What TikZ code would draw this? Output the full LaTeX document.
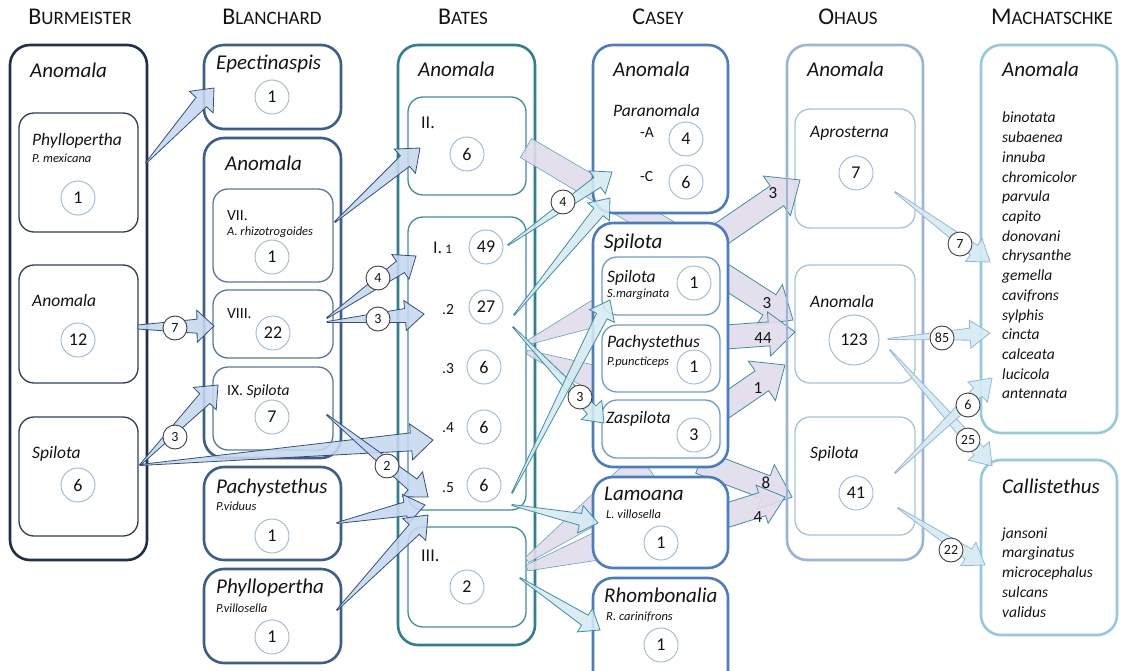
\documentclass[tikz,border=0pt]{standalone}
\usepackage{fontspec}
\setmainfont{Carlito}
\usetikzlibrary{calc,fit}
\definecolor{burc}{HTML}{1F3048}
\definecolor{burin}{HTML}{2F3F55}
\definecolor{blc}{HTML}{3D5D8A}
\definecolor{blin}{HTML}{5878A3}
\definecolor{batc}{HTML}{2F7F91}
\definecolor{batin}{HTML}{3F8EA0}
\definecolor{casc}{HTML}{4A7CC4}
\definecolor{casin}{HTML}{6E9BD6}
\definecolor{ohc}{HTML}{9AB5D8}
\definecolor{ohin}{HTML}{A9C2E0}
\definecolor{mac}{HTML}{93CBD9}
\definecolor{numc}{HTML}{9BB7DB}
\definecolor{lblc}{HTML}{404040}
\definecolor{blfill}{HTML}{C6D8F0}
\definecolor{blstroke}{HTML}{34507A}
\definecolor{cyfill}{HTML}{D4EBF2}
\definecolor{pufill}{HTML}{E2DCEB}
\definecolor{txt}{HTML}{141414}
\newcommand\myfs[1]{\fontsize{#1}{#1}\selectfont}
\newcommand\hd[2]{{\myfs{24}#1}{\myfs{19}#2}}
% tapered arrow: style, tail, tip, tail hw, shaft hw, head hw, head length
\newcommand\tarrow[7]{%
  \coordinate (tb) at ($(#3)!#7!(#2)$);
  \draw[#1] ($(#2)!#4!90:(#3)$) -- ($(tb)!#5!90:(#3)$) -- ($(tb)!#6!90:(#3)$) -- (#3)
    -- ($(tb)!#6!-90:(#3)$) -- ($(tb)!#5!-90:(#3)$) -- ($(#2)!#4!-90:(#3)$) -- cycle;}
\begin{document}
\begin{tikzpicture}[x=1pt,y=-1pt,
  outer/.style={rounded corners=20pt, line width=2.6pt, inner sep=0pt, fill=white},
  innerbox/.style={rounded corners=15pt, line width=1.3pt, inner sep=0pt, fill=white},
  hdr/.style={anchor=base, inner sep=0pt, text=txt},
  ttl/.style={anchor=base west, inner sep=0pt, text=txt, font=\myfs{21}\itshape},
  sub/.style={anchor=base west, inner sep=0pt, text=txt, font=\myfs{17.5}\itshape},
  sml/.style={anchor=base west, inner sep=0pt, text=txt, font=\myfs{12.5}\itshape},
  rom/.style={anchor=base west, inner sep=0pt, text=txt, font=\myfs{15.5}},
  romb/.style={anchor=base west, inner sep=0pt, text=txt, font=\myfs{18}},
  lst/.style={anchor=base west, inner sep=0pt, text=txt, font=\myfs{15.5}\itshape},
  num/.style={circle, draw=numc, line width=0.9pt, fill=white, minimum size=34pt, inner sep=0pt, text=txt, font=\myfs{18}},
  bignum/.style={num, minimum size=50pt},
  lbl/.style={circle, draw=lblc, line width=0.9pt, fill=white, minimum size=24pt, inner sep=0pt, text=txt, font=\myfs{14}},
  plbl/.style={inner sep=0pt, text=txt, font=\myfs{17}},
  blarr/.style={fill=blfill, draw=blstroke, line width=0.8pt, fill opacity=0.88},
  cyarr/.style={fill=cyfill, draw=batin, line width=0.8pt, fill opacity=0.88},
  oharr/.style={fill=cyfill, draw=ohc, line width=0.8pt, fill opacity=0.9},
  puarr/.style={fill=pufill, draw=batin, line width=0.8pt, fill opacity=0.9},
  pushaft/.style={fill=pufill, draw=batin!80, line width=0.6pt, fill opacity=0.9}
]
\useasboundingbox (0,0) rectangle (1131,671);
\clip (0,0) rectangle (1131,671);
\fill[white] (0,0) rectangle (1131,671);

% headers
\node[hdr] (h1) at (80,25) {\hd{B}{URMEISTER}};
\node[hdr] (h2) at (272,25) {\hd{B}{LANCHARD}};
\node[hdr] (h3) at (463,25) {\hd{B}{ATES}};
\node[hdr] (h4) at (658,25) {\hd{C}{ASEY}};
\node[hdr] (h5) at (848,25) {\hd{O}{HAUS}};
\node[hdr] (h6) at (1052,25) {\hd{M}{ACHATSCHKE}};

% Burmeister
\node[outer,draw=burc,fit={(10,45)(147,560)}] (burO) {};
\node[innerbox,draw=burin,fit={(19,113)(138,232)}] (burP) {};
\node[innerbox,draw=burin,fit={(19,265)(138,383)}] (burA) {};
\node[innerbox,draw=burin,fit={(19,417)(138,536)}] (burS) {};
\node[ttl] (burT) at (30,78) {Anomala};
\node[sub] (burPt) at (32,146) {Phyllopertha};
\node[sml] (burPs) at (32,163) {P. mexicana};
\node[num] (burPn) at (78,198) {1};
\node[sub] (burAt) at (32,306) {Anomala};
\node[num] (burAn) at (78,340) {12};
\node[sub] (burSt) at (32,458) {Spilota};
\node[num] (burSn) at (78,485) {6};

% Blanchard
\node[outer,draw=blc,fit={(204,45)(341,129)}] (blE) {};
\node[outer,draw=blc,fit={(204,138)(341,458)}] (blA) {};
\node[innerbox,draw=blin,fit={(213,189)(333,282)}] (bl7) {};
\node[innerbox,draw=blin,fit={(213,290)(333,358)}] (bl8) {};
\node[innerbox,draw=blin,fit={(213,367)(333,450)}] (bl9) {};
\node[outer,draw=blc,fit={(204,467)(341,560)}] (blP) {};
\node[outer,draw=blc,fit={(204,569)(341,663)}] (blV) {};
\node[ttl] (blEt) at (216,70) {Epectinaspis};
\node[num] (blEn) at (272,97) {1};
\node[ttl] (blAt) at (225,171) {Anomala};
\node[rom] (bl7t) at (227,220) {VII.};
\node[sml] (bl7s) at (227,235) {A. rhizotrogoides};
\node[num] (bl7n) at (272,257) {1};
\node[rom] (bl8t) at (227,318) {VIII.};
\node[num] (bl8n) at (273,333) {22};
\node[rom] (bl9t) at (227,395) {IX. \textit{Spilota}};
\node[num] (bl9n) at (272,417) {7};
\node[ttl] (blPt) at (216,493) {Pachystethus};
\node[sml] (blPs) at (216,510) {P.viduus};
\node[num] (blPn) at (272,536) {1};
\node[ttl] (blVt) at (216,593) {Phyllopertha};
\node[sml] (blVs) at (216,612) {P.villosella};
\node[num] (blVn) at (272,637) {1};

% Bates
\node[outer,draw=batc,fit={(398,45)(535,645)}] (baO) {};
\node[innerbox,draw=batin,fit={(408,97)(526,195)}] (ba2) {};
\node[innerbox,draw=batin,fit={(408,217)(526,510)}] (ba1) {};
\node[innerbox,draw=batin,fit={(408,527)(526,627)}] (ba3) {};
\node[ttl] (baT) at (418,77) {Anomala};
\node[romb] (ba2t) at (421,129) {II.};
\node[num] (ba2n) at (467,154) {6};
\node[romb] (ba1t) at (433,253) {I.\,{\myfs{13}1}};
\node[num] (ba1n) at (486,247) {49};
\node[rom] (ba12t) at (442,314) {.2};
\node[num] (ba12n) at (486,307) {27};
\node[rom] (ba13t) at (442,373) {.3};
\node[num] (ba13n) at (484,367) {6};
\node[rom] (ba14t) at (442,432) {.4};
\node[num] (ba14n) at (484,427) {6};
\node[rom] (ba15t) at (442,492) {.5};
\node[num] (ba15n) at (484,485) {6};
\node[romb] (ba3t) at (421,561) {III.};
\node[num] (ba3n) at (467,587) {2};

% Ohaus
\node[outer,draw=ohc,fill=none,fit={(787,45)(923,560)}] (ohO) {};
\node[innerbox,draw=ohin,fit={(795,109)(915,228)}] (ohA) {};
\node[innerbox,draw=ohin,fit={(795,265)(915,383)}] (ohN) {};
\node[innerbox,draw=ohin,fit={(795,417)(915,535)}] (ohS) {};
\node[ttl] (ohT) at (807,77) {Anomala};
\node[sub] (ohAt) at (810,138) {Aprosterna};
\node[num] (ohAn) at (856,173) {7};
\node[sub] (ohNt) at (810,307) {Anomala};
\node[bignum] (ohNn) at (854,340) {123};
\node[sub] (ohSt) at (810,458) {Spilota};
\node[num] (ohSn) at (856,493) {41};

% Machatschke
\node[outer,draw=mac,fit={(981,45)(1117,433)}] (maA) {};
\node[outer,draw=mac,fit={(981,460)(1117,635)}] (maC) {};
\node[ttl] (maAt) at (1002,77) {Anomala};
\foreach \w [count=\i] in {binotata,subaenea,innuba,chromicolor,parvula,capito,donovani,chrysanthe,gemella,cavifrons,sylphis,cincta,calceata,lucicola,antennata}
  \node[lst] (ma\i) at (1002,{123+19.7*(\i-1)}) {\w};
\node[ttl] (maCt) at (1002,493) {Callistethus};
\foreach \w [count=\i] in {jansoni,marginatus,microcephalus,sulcans,validus}
  \node[lst] (mc\i) at (1002,{538+19.75*(\i-1)}) {\w};

% purple arrows behind Casey
\coordinate (q1s) at (526,148); \coordinate (q1e) at (690,245);
\coordinate (q2s) at (527,343); \coordinate (q2e) at (650,290);
\coordinate (q3s) at (527,352); \coordinate (q3e) at (650,400);
\coordinate (q4s) at (527,560); \coordinate (q4e) at (650,470);
\coordinate (q5s) at (527,568); \coordinate (q5e) at (650,530);
\tarrow{pushaft}{q1s}{q1e}{11pt}{12pt}{12pt}{1pt}
\tarrow{pushaft}{q2s}{q2e}{2pt}{22pt}{22pt}{1pt}
\tarrow{pushaft}{q3s}{q3e}{2pt}{22pt}{22pt}{1pt}
\tarrow{pushaft}{q4s}{q4e}{3pt}{22pt}{22pt}{1pt}
\tarrow{pushaft}{q5s}{q5e}{3pt}{22pt}{22pt}{1pt}
\coordinate (p2s) at (705,245); \coordinate (p2e) at (800,180);
\coordinate (p3s) at (712,268); \coordinate (p3e) at (793,320);
\coordinate (p4s) at (712,338); \coordinate (p4e) at (795,332);
\coordinate (p5s) at (712,415); \coordinate (p5e) at (785,365);
\coordinate (p6s) at (700,462); \coordinate (p6e) at (792,497);
\coordinate (p7s) at (712,520); \coordinate (p7e) at (785,497);
\tarrow{puarr}{p2s}{p2e}{12pt}{12pt}{24pt}{28pt}
\tarrow{puarr}{p3s}{p3e}{12pt}{12pt}{24pt}{28pt}
\tarrow{puarr}{p4s}{p4e}{12pt}{12pt}{22pt}{26pt}
\tarrow{puarr}{p5s}{p5e}{12pt}{12pt}{24pt}{28pt}
\tarrow{puarr}{p6s}{p6e}{12pt}{12pt}{24pt}{28pt}
\tarrow{puarr}{p7s}{p7e}{12pt}{12pt}{20pt}{24pt}
\draw[ohc,line width=2.6pt] (787,150) -- (787,530);

% Casey
\node[outer,draw=casc,fit={(593,45)(728,213)}] (caA) {};
\node[outer,draw=casc,fit={(593,223)(728,467)}] (caS) {};
\node[innerbox,draw=casin,fit={(602,257)(720,315)}] (caS1) {};
\node[innerbox,draw=casin,fit={(602,325)(720,392)}] (caS2) {};
\node[innerbox,draw=casin,fit={(602,400)(720,458)}] (caS3) {};
\node[outer,draw=casc,fit={(593,477)(728,568)}] (caL) {};
\node[outer,draw=casc,fit={(593,578)(728,700)}] (caR) {};
\node[ttl] (caAt) at (613,77) {Anomala};
\node[sub] (caPt) at (613,117) {Paranomala};
\node[rom] (caPa) at (640,138) {-A};
\node[num] (caPan) at (686,139) {4};
\node[rom] (caPc) at (640,182) {-C};
\node[num] (caPcn) at (686,182) {6};
\node[ttl] (caSt) at (604,248) {Spilota};
\node[sub] (caS1t) at (607,282) {Spilota};
\node[sml] (caS1s) at (607,297) {S.marginata};
\node[num] (caS1n) at (694,283) {1};
\node[sub] (caS2t) at (607,347) {Pachystethus};
\node[sml] (caS2s) at (607,365) {P.puncticeps};
\node[num] (caS2n) at (694,367) {1};
\node[sub] (caS3t) at (606,423) {Zaspilota};
\node[num] (caS3n) at (694,435) {3};
\node[ttl] (caLt) at (604,500) {Lamoana};
\node[sml] (caLs) at (606,518) {L. villosella};
\node[num] (caLn) at (661,543) {1};
\node[ttl] (caRt) at (604,602) {Rhombonalia};
\node[sml] (caRs) at (606,620) {R. carinifrons};
\node[num] (caRn) at (661,645) {1};

% purple labels
\node[plbl] (pl2) at (773,193) {3};
\node[plbl] (pl3) at (767,303) {3};
\node[plbl] (pl4) at (763,338) {44};
\node[plbl] (pl5) at (758,388) {1};
\node[plbl] (pl6) at (766,483) {8};
\node[plbl] (pl7) at (758,517) {4};

% Blanchard-bound arrows
\coordinate (a1s) at (146,163); \coordinate (a1e) at (214,88);
\coordinate (a2s) at (138,327); \coordinate (a2e) at (214,326);
\coordinate (a3s) at (140,465); \coordinate (a3e) at (218,385);
\coordinate (a4s) at (140,465); \coordinate (a4e) at (433,440);
\coordinate (a5s) at (327,415); \coordinate (a5e) at (428,497);
\coordinate (a6s) at (337,523); \coordinate (a6e) at (425,505);
\coordinate (a7s) at (337,610); \coordinate (a7e) at (428,515);
\coordinate (a8s) at (335,222); \coordinate (a8e) at (420,148);
\coordinate (a9s) at (327,318); \coordinate (a9e) at (416,256);
\coordinate (a10s) at (327,322); \coordinate (a10e) at (424,314);
\tarrow{blarr}{a1s}{a1e}{0.5pt}{7pt}{16pt}{19pt}
\tarrow{blarr}{a2s}{a2e}{2pt}{7pt}{16pt}{17pt}
\tarrow{blarr}{a3s}{a3e}{0.5pt}{7pt}{16pt}{19pt}
\tarrow{blarr}{a4s}{a4e}{0.5pt}{9pt}{18pt}{22pt}
\tarrow{blarr}{a5s}{a5e}{0.5pt}{7pt}{16pt}{20pt}
\tarrow{blarr}{a6s}{a6e}{0.5pt}{7pt}{15pt}{20pt}
\tarrow{blarr}{a7s}{a7e}{0.5pt}{7pt}{16pt}{20pt}
\tarrow{blarr}{a8s}{a8e}{0.5pt}{7pt}{16pt}{20pt}
\tarrow{blarr}{a9s}{a9e}{0.5pt}{7pt}{15pt}{19pt}
\tarrow{blarr}{a10s}{a10e}{0.5pt}{7pt}{15pt}{19pt}

% Bates-to-Casey arrows
\coordinate (b2s) at (508,245); \coordinate (b2e) at (612,172);
\coordinate (b3s) at (514,315); \coordinate (b3e) at (610,198);
\coordinate (b4s) at (513,327); \coordinate (b4e) at (604,423);
\coordinate (b5s) at (512,493); \coordinate (b5e) at (610,300);
\coordinate (b6s) at (512,505); \coordinate (b6e) at (598,523);
\coordinate (b7s) at (520,578); \coordinate (b7e) at (600,630);
\tarrow{cyarr}{b2s}{b2e}{0.5pt}{6pt}{14pt}{18pt}
\tarrow{cyarr}{b3s}{b3e}{0.5pt}{6pt}{14pt}{18pt}
\tarrow{cyarr}{b4s}{b4e}{0.5pt}{6pt}{14pt}{18pt}
\tarrow{cyarr}{b5s}{b5e}{0.5pt}{6pt}{14pt}{18pt}
\tarrow{cyarr}{b6s}{b6e}{0.5pt}{6pt}{14pt}{18pt}
\tarrow{cyarr}{b7s}{b7e}{0.5pt}{6pt}{14pt}{18pt}

% Ohaus-to-Machatschke arrows
\coordinate (c1s) at (895,192); \coordinate (c1e) at (990,262);
\coordinate (c2s) at (888,339); \coordinate (c2e) at (990,333);
\coordinate (c3s) at (890,350); \coordinate (c3e) at (992,466);
\coordinate (c4s) at (895,473); \coordinate (c4e) at (992,378);
\coordinate (c5s) at (898,508); \coordinate (c5e) at (985,565);
\tarrow{oharr}{c1s}{c1e}{0.5pt}{6pt}{14pt}{20pt}
\tarrow{oharr}{c2s}{c2e}{0.5pt}{6pt}{14pt}{20pt}
\tarrow{oharr}{c3s}{c3e}{0.5pt}{6pt}{14pt}{20pt}
\tarrow{oharr}{c4s}{c4e}{0.5pt}{6pt}{14pt}{20pt}
\tarrow{oharr}{c5s}{c5e}{0.5pt}{6pt}{14pt}{20pt}

% arrow labels
\node[lbl] (l7) at (175,328) {7};
\node[lbl] (l3a) at (175,437) {3};
\node[lbl] (l4a) at (378,278) {4};
\node[lbl] (l3b) at (378,319) {3};
\node[lbl] (l2) at (387,466) {2};
\node[lbl] (l4b) at (563,202) {4};
\node[lbl] (l3c) at (580,397) {3};
\node[lbl] (l7b) at (960,244) {7};
\node[lbl] (l85) at (942,338) {85};
\node[lbl] (l6) at (968,405) {6};
\node[lbl] (l25) at (968,440) {25};
\node[lbl] (l22) at (951,550) {22};
\end{tikzpicture}
\end{document}
